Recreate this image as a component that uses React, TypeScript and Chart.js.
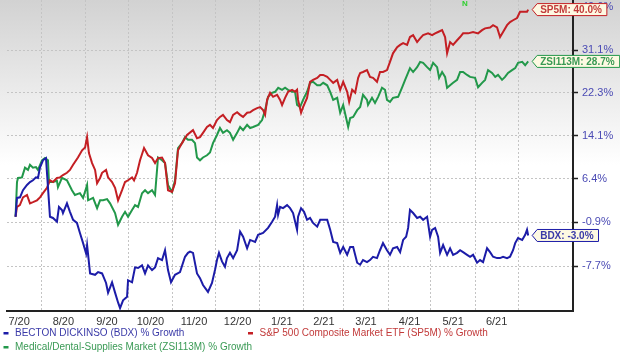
import { useEffect, useRef } from 'react';
import { Chart, registerables } from 'chart.js';

Chart.register(...registerables);

// x values are days since 2020-07-01, y values are % growth
const monthLabels = ['7/20', '8/20', '9/20', '10/20', '11/20', '12/20', '1/21', '2/21', '3/21', '4/21', '5/21', '6/21'];
const monthStartDays = [0, 31, 62, 92, 123, 153, 184, 215, 243, 274, 304, 335, 365];
const yTickGrowth = [-7.7, -0.9, 6.4, 14.1, 22.3, 31.1, 40.6];
const xMinDay = 7;
const xMaxDay = 403.5;
const yMinGrowth = -14.2;
const yMaxGrowth = 42.2;

const bdxSeries: [number, number][] = [
  [13, 0], [14, 3.1], [16.1, 3.2], [18.2, 4.4], [21, 5.3], [23.1, 5.8], [25.2, 6.1], [27.3, 6.6], [28.7, 6.5], [30.1, 8.3],
  [32.2, 9.6], [34.3, 10.0], [35.7, 4.9], [37.1, 0.0], [39.2, -0.2], [42, -0.8], [43.4, 1.6], [45.5, 1.1], [46.2, 0.6], [49, 2.2],
  [51.1, 0.8], [53.3, -0.5], [56, -1.0], [58.1, -2.6], [60.3, -4.2], [62.4, -5.8], [63.1, -4.5], [65.2, -8.8], [68.7, -9.0], [70.8, -8.6],
  [73.6, -8.8], [76.4, -10.2], [77.8, -11.6], [80.6, -10.1], [82.7, -11.6], [84.8, -13.0], [86.2, -13.8], [88.3, -12.7], [91.1, -12.2], [91.8, -9.8],
  [94.6, -10.1], [96.7, -7.9], [98.8, -8.0], [101.6, -7.6], [103.7, -8.8], [105.8, -7.6], [108.6, -8.3], [110.7, -7.9], [112.8, -6.5], [115.6, -6.8],
  [117.7, -5.3], [119.8, -8.3], [121.9, -10.1], [124.7, -9.0], [128.2, -8.6], [131.7, -6.3], [133.8, -5.7], [135.2, -5.5], [137.3, -5.7], [140.1, -8.8],
  [142.2, -9.5], [144.3, -10.5], [147.8, -11.5], [150.6, -10.2], [152.7, -8.3], [154.1, -6.8], [155.5, -5.7], [157.6, -7.0], [159.7, -7.8], [161.1, -6.5],
  [163.2, -5.7], [165.4, -6.5], [168.2, -5.3], [170.3, -2.4], [172.4, -3.2], [175.2, -5.0], [177.3, -3.7], [180.8, -4.0], [182.9, -2.9], [186.4, -2.6],
  [189.9, -1.8], [192.7, -0.8], [194.8, 0.0], [196.2, 1.9], [196.9, 0.3], [198.3, 1.6], [200.4, 1.4], [203.2, 1.9], [205.3, 1.4], [207.4, 0.6],
  [210.2, -2.1], [210.9, 0.0], [213, 1.4], [215.1, 0.8], [217.2, -0.5], [219.3, -0.2], [221.4, -1.0], [224.3, -1.6], [226.4, -0.5], [228.5, -0.5],
  [231.3, -0.5], [233.4, -2.1], [235.5, -4.0], [238.3, -4.2], [240.4, -5.7], [242.5, -4.8], [245.3, -6.0], [247.4, -4.8], [249.5, -4.8], [252.3, -7.2],
  [254.4, -7.5], [256.4, -6.8], [259.2, -7.1], [261.3, -6.8], [263.4, -6.3], [266.2, -6.5], [268.3, -5.3], [270.4, -4.2], [273.2, -5.3], [275.3, -6.0],
  [277.4, -5.0], [280.3, -4.8], [282.4, -5.6], [284.5, -3.7], [286.6, -3.2], [288, -1.8], [289.3, 1.1], [291.5, 0.6], [294.3, -0.2], [296.4, 0.0],
  [298.5, -0.5], [301.3, 0.0], [303.4, -3.2], [304.8, -2.1], [306.9, -1.8], [309, -3.2], [310.4, -5.7], [312.5, -4.5], [315.3, -6.0], [317.4, -5.0],
  [319.5, -6.0], [322.3, -5.7], [324.4, -5.3], [326.5, -5.6], [329.3, -6.0], [331.4, -6.3], [333.5, -6.0], [336.3, -7.2], [338.4, -6.8], [340.5, -7.1],
  [343.3, -5.0], [345.4, -5.6], [347.5, -6.3], [350.3, -6.5], [352.4, -6.5], [354.5, -6.3], [357.3, -6.5], [359.4, -6.3], [361.5, -5.3], [363, -4.2],
  [365, -3.4], [367.9, -3.7], [370, -2.9], [371.3, -2.1], [372.1, -3.0],
];

const sp5mSeries: [number, number][] = [
  [13, 0], [14, 1.6], [16, 1.9], [18.2, 3.2], [21, 3.6], [23.1, 2.2], [25.2, 2.4], [28, 2.7], [30.1, 3.2], [32.2, 3.9],
  [35, 4.8], [37.1, 6.1], [39.2, 5.8], [42, 6.5], [44.1, 6.6], [46.2, 7.0], [49, 7.4], [51.1, 7.9], [53.3, 8.8], [56.7, 10.1],
  [59.6, 11.4], [61.7, 11.9], [63.1, 13.8], [64.4, 10.9], [66.6, 9.1], [68.7, 7.9], [70.1, 5.6], [72.2, 6.5], [73.6, 7.4], [76.4, 7.9],
  [77.8, 6.6], [80.6, 5.8], [82.7, 4.8], [84.8, 2.7], [87.6, 4.4], [89.7, 5.8], [91.8, 6.1], [94.6, 6.6], [96, 6.1], [98.1, 7.4],
  [100.2, 9.6], [103, 11.8], [105.8, 10.5], [108.6, 10.0], [110.7, 9.1], [112.8, 10.0], [115.6, 10.1], [117.7, 9.1], [119.8, 4.4], [122.6, 4.1],
  [124.7, 5.6], [126.8, 11.4], [129.6, 12.7], [133.1, 14.2], [137.3, 15.1], [140.1, 13.6], [142.2, 13.8], [144.3, 14.6], [147.1, 15.7], [149.2, 16.1],
  [151.3, 15.5], [154.1, 17.0], [156.2, 17.6], [158.3, 18.0], [161.1, 17.0], [163.2, 16.6], [165.4, 18.0], [168.2, 18.5], [170.3, 18.0], [172.4, 17.6],
  [175.2, 18.4], [177.3, 18.5], [179.4, 18.9], [182.2, 19.3], [184.3, 19.5], [186.4, 18.9], [187.8, 18.0], [189.2, 20.9], [191.3, 22.3], [193.4, 21.5],
  [196.2, 21.9], [198.3, 20.9], [199.7, 19.9], [201.8, 21.3], [203.9, 22.5], [206.7, 22.9], [208.8, 22.5], [210.2, 22.9], [210.9, 20.9], [213, 18.4],
  [214.4, 19.5], [217.2, 21.3], [219.3, 24.5], [221.4, 24.9], [224.3, 25.3], [226.4, 25.9], [228.5, 25.9], [231.3, 25.5], [233.4, 24.9], [235.5, 24.3],
  [238.3, 24.9], [240.4, 22.9], [242.5, 24.5], [245.3, 22.5], [246.7, 20.5], [248.8, 22.9], [250.9, 22.3], [253, 25.3], [254.4, 26.3], [256.4, 26.5],
  [259.2, 26.9], [261.3, 25.5], [263.4, 25.3], [266.2, 24.5], [268.3, 26.5], [270.4, 26.5], [273.2, 26.9], [275.3, 28.6], [277.4, 30.4], [280.3, 31.7],
  [282.4, 32.2], [284.5, 32.6], [287.3, 32.2], [289.3, 33.9], [291.5, 34.3], [294.3, 32.8], [296.4, 33.6], [298.5, 34.3], [302, 34.7], [304.8, 34.3],
  [306.9, 34.7], [309, 35.0], [311.8, 35.4], [313.9, 33.9], [315.3, 30.4], [317.4, 32.8], [319.5, 32.2], [322.3, 33.2], [324.4, 33.9], [326.5, 34.7],
  [330, 34.7], [333.5, 35.0], [337, 34.7], [339.8, 35.4], [341.9, 35.8], [345.4, 36.0], [347.5, 36.5], [350.3, 36.0], [352.4, 33.9], [354.5, 35.0],
  [357.3, 36.5], [359.4, 37.2], [361.5, 37.6], [364.3, 38.1], [366.4, 39.5], [368.5, 39.5], [371.3, 39.5], [372.1, 40.0],
];

const zsiSeries: [number, number][] = [
  [13, 0], [14, 5.8], [14.7, 6.5], [17.5, 6.6], [19.6, 8.3], [21.7, 7.9], [23.1, 8.8], [25.2, 8.3], [27.3, 8.4], [28.7, 7.9],
  [31.5, 9.6], [33.6, 10.0], [35.7, 9.6], [36.4, 5.8], [39.2, 5.8], [42, 6.0], [42.7, 4.9], [45.5, 6.5], [49, 6.1], [52.5, 4.4],
  [54.6, 3.6], [58.1, 3.9], [60.3, 3.1], [63.1, 5.3], [63.8, 2.7], [67.3, 3.1], [70.1, 1.4], [72.2, 2.7], [74.3, 2.7], [77.1, 2.9],
  [79.2, 2.2], [82.7, 0.6], [84.8, -1.3], [87.6, 0.0], [89.7, 0.8], [91.8, 0.0], [94.6, 1.1], [96.7, 1.9], [98.8, 1.6], [101.6, 3.9],
  [103.7, 4.4], [105.8, 3.9], [108.6, 4.4], [110.7, 3.6], [112.8, 10.1], [115.6, 9.6], [117.7, 9.1], [119.8, 5.3], [122.6, 4.1], [124.7, 6.1],
  [126.8, 11.8], [129.6, 12.7], [131.7, 13.8], [133.8, 13.3], [136.6, 13.3], [138.7, 12.7], [140.1, 10.1], [142.2, 9.6], [144.3, 10.1], [147.1, 10.5],
  [149.2, 11.0], [151.3, 12.7], [154.1, 14.2], [156.2, 15.5], [158.3, 14.6], [161.1, 15.1], [163.2, 14.6], [165.4, 13.3], [168.2, 14.6], [170.3, 15.7],
  [172.4, 15.1], [175.2, 16.1], [177.3, 15.5], [179.4, 15.7], [182.9, 16.1], [185.7, 17.0], [187.8, 18.9], [189.9, 21.5], [192.7, 22.3], [194.8, 22.5],
  [197, 23.3], [199.7, 22.9], [201.8, 23.3], [203.9, 22.9], [206.7, 22.5], [208.8, 22.5], [210.2, 19.9], [212.3, 19.5], [214.4, 20.9], [217.2, 22.5],
  [219.3, 24.3], [221.4, 24.5], [224.3, 23.8], [226.4, 23.8], [228.5, 24.3], [231.3, 23.8], [233.4, 22.5], [235.5, 20.9], [238.3, 21.3], [240.4, 18.4],
  [242.5, 19.9], [246, 15.7], [247.4, 17.4], [249.5, 17.6], [252.3, 18.9], [254.4, 19.5], [256.4, 21.9], [259.2, 20.9], [259.9, 19.9], [262.7, 21.3],
  [264.8, 20.3], [267, 21.5], [269.7, 23.3], [271.8, 22.9], [273.2, 20.9], [275.3, 20.5], [277.4, 21.3], [281, 21.5], [283.8, 23.4], [285.9, 24.9],
  [289.3, 27.3], [291.5, 26.5], [294.3, 27.5], [296.4, 28.6], [298.5, 28.4], [301.3, 27.5], [303.4, 26.9], [305.5, 28.4], [308.3, 27.5], [309.7, 25.3],
  [311.8, 26.5], [313.9, 25.5], [315.3, 23.3], [317.4, 23.8], [319.5, 24.3], [322.3, 24.9], [324.4, 26.5], [326.5, 26.5], [329.3, 25.9], [331.4, 25.5],
  [334.9, 25.3], [337, 23.4], [339.8, 24.3], [341.9, 24.9], [344, 26.9], [346.8, 26.3], [349, 25.5], [351, 25.9], [353.8, 24.9], [355.9, 25.5],
  [358, 26.3], [360.8, 26.9], [363, 27.3], [365, 28.4], [367.9, 28.6], [370, 27.9], [372.1, 28.7],
];

const seriesInfo = [
  { key: 'BDX', legend: 'BECTON DICKINSO (BDX) % Growth', line: '#1c1ca8', text: '#3a3aa8', data: bdxSeries },
  { key: 'SP5M', legend: 'S&P 500 Composite Market ETF (SP5M) % Growth', line: '#c41f24', text: '#c23a3a', data: sp5mSeries },
  { key: 'ZSI113M', legend: 'Medical/Dental-Supplies Market (ZSI113M) % Growth', line: '#22984a', text: '#3a9a55', data: zsiSeries },
];

const FONT = '"Liberation Sans", Arial, sans-serif';

export default function App() {
  const canvasRef = useRef<HTMLCanvasElement | null>(null);

  useEffect(() => {
    const canvas = canvasRef.current;
    if (!canvas) return;

    const midDays = monthStartDays.slice(0, -1).map((d, i) => (d + monthStartDays[i + 1]) / 2);
    const xTickValues = [...monthStartDays, ...midDays]
      .filter((v) => v > xMinDay && v < xMaxDay)
      .sort((a, b) => a - b);

    const bgPlugin = {
      id: 'bg',
      beforeDraw(chart: any) {
        const { ctx, width, height } = chart;
        ctx.save();
        ctx.fillStyle = '#ffffff';
        ctx.fillRect(0, 0, width, height);
        const g = ctx.createLinearGradient(0, 0, 0, 165);
        g.addColorStop(0, '#d2d2d2');
        g.addColorStop(1, '#ffffff');
        ctx.fillStyle = g;
        ctx.fillRect(0, 0, width, 165);
        ctx.restore();
      },
    };

    const overlayPlugin = {
      id: 'overlay',
      afterDraw(chart: any) {
        const { ctx } = chart;
        ctx.save();
        // end-value callouts
        seriesInfo.forEach((s, i) => {
          const meta = chart.getDatasetMeta(i);
          const pt = meta.data[meta.data.length - 1];
          const last = s.data[s.data.length - 1][1];
          const label = `${s.key}: ${last.toFixed(1)}%`;
          ctx.font = `bold 10px ${FONT}`;
          const w = ctx.measureText(label).width;
          const h = 12;
          const tipX = pt.x + 4;
          const top = Math.max(2, pt.y - h / 2);
          const yc = top + h / 2;
          const bodyX = tipX + 5;
          const right = bodyX + w + 8;
          ctx.beginPath();
          ctx.moveTo(tipX, yc);
          ctx.lineTo(bodyX, top);
          ctx.lineTo(right, top);
          ctx.lineTo(right, top + h);
          ctx.lineTo(bodyX, top + h);
          ctx.closePath();
          ctx.fillStyle = '#fdf9e2';
          ctx.fill();
          ctx.lineWidth = 1;
          ctx.strokeStyle = s.line;
          ctx.stroke();
          ctx.fillStyle = s.text;
          ctx.textBaseline = 'middle';
          ctx.textAlign = 'left';
          ctx.fillText(label, bodyX + 3, yc + 0.5);
        });
        // N marker
        ctx.font = `bold 8px ${FONT}`;
        ctx.fillStyle = '#2fd02f';
        ctx.textBaseline = 'alphabetic';
        ctx.textAlign = 'center';
        ctx.fillText('N', 465, 6);
        // legend
        const legendPos = [
          { x: 3.5, y: 333 },
          { x: 248, y: 333 },
          { x: 3.5, y: 347 },
        ];
        ctx.font = `10px ${FONT}`;
        ctx.textAlign = 'left';
        ctx.textBaseline = 'middle';
        seriesInfo.forEach((s, i) => {
          const p = legendPos[i];
          ctx.fillStyle = s.line;
          ctx.fillRect(p.x, p.y - 1, 5, 2.5);
          ctx.fillStyle = s.text;
          ctx.fillText(s.legend, p.x + 11.5, p.y);
        });
        ctx.restore();
      },
    };

    const gridCol = '#c4c4c4';

    const chart = new Chart(canvas, {
      type: 'line',
      data: {
        datasets: seriesInfo.map((s) => ({
          label: s.legend,
          data: s.data.map(([d, g]) => ({ x: d, y: 100 + g })),
          borderColor: s.line,
          borderWidth: 2,
          pointRadius: 0,
          tension: 0,
          fill: false,
        })),
      },
      options: {
        responsive: false,
        animation: false,
        events: [],
        layout: { padding: { left: 7, top: 0, right: 0, bottom: 0 } },
        plugins: { legend: { display: false }, tooltip: { enabled: false } },
        scales: {
          x: {
            type: 'linear',
            position: 'bottom',
            min: xMinDay,
            max: xMaxDay,
            afterBuildTicks: (scale: any) => {
              scale.ticks = xTickValues.map((v) => ({ value: v }));
            },
            afterFit: (scale: any) => {
              scale.height = 46;
              scale.paddingLeft = 0;
              scale.paddingRight = 0;
            },
            grid: {
              color: (ctx: any) =>
                ctx.tick && monthStartDays.includes(ctx.tick.value) ? gridCol : 'rgba(0,0,0,0)',
              lineWidth: 1,
              drawTicks: false,
            },
            border: { display: true, color: '#222222', width: 2, dash: [2, 2] },
            ticks: {
              autoSkip: false,
              maxRotation: 0,
              padding: 4,
              color: '#333333',
              font: { family: FONT, size: 11 },
              callback: (v: any) => {
                const i = midDays.indexOf(Number(v));
                return i >= 0 ? monthLabels[i] : '';
              },
            },
          },
          y: {
            type: 'logarithmic',
            position: 'right',
            min: 100 + yMinGrowth,
            max: 100 + yMaxGrowth,
            afterBuildTicks: (scale: any) => {
              scale.ticks = yTickGrowth.map((g) => ({ value: 100 + g }));
            },
            afterFit: (scale: any) => {
              scale.width = 47;
              scale.paddingTop = 0;
              scale.paddingBottom = 0;
            },
            grid: {
              color: (ctx: any) =>
                ctx.tick && Math.abs(ctx.tick.value - (100 + yTickGrowth[yTickGrowth.length - 1])) < 0.01
                  ? 'rgba(0,0,0,0)'
                  : gridCol,
              lineWidth: 1,
              drawTicks: true,
              tickLength: 5,
              tickColor: '#222222',
              tickWidth: 1.5,
            },
            border: { display: true, color: '#222222', width: 2, dash: [2, 2] },
            ticks: {
              autoSkip: false,
              padding: 4,
              color: '#4a4ab4',
              font: { family: FONT, size: 11 },
              callback: (v: any) => `${(Number(v) - 100).toFixed(1)}%`,
            },
          },
        },
      },
      plugins: [bgPlugin, overlayPlugin],
    } as any);

    return () => chart.destroy();
  }, []);

  return (
    <div style={{ position: 'absolute', left: 0, top: 0, width: 620, height: 357 }}>
      <canvas ref={canvasRef} width={620} height={357} />
    </div>
  );
}
